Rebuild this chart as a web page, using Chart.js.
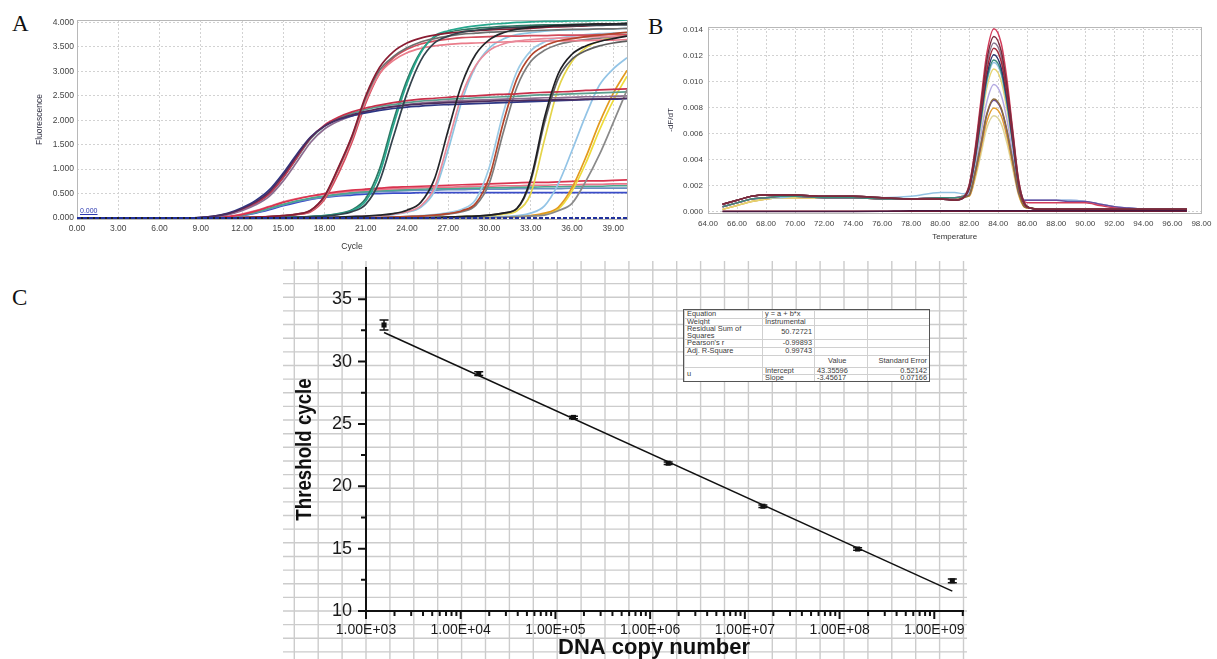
<!DOCTYPE html>
<html><head><meta charset="utf-8">
<script src="https://cdn.jsdelivr.net/npm/chart.js@4.4.1/dist/chart.umd.min.js"></script>
<style>
html,body{margin:0;padding:0;background:#fff;width:1217px;height:659px;overflow:hidden;position:relative;font-family:'Liberation Sans',Arial,sans-serif;}
canvas{position:absolute;}
.lbl{position:absolute;font-family:'Liberation Serif','Times New Roman',serif;font-size:23px;color:#111;line-height:1;}
#thr{position:absolute;left:80px;top:207px;font-size:7px;color:#2a38b0;text-decoration:underline;font-family:'Liberation Sans',Arial,sans-serif;}
#tbl{position:absolute;left:683px;top:309px;width:247px;height:73px;background:#fff;border:1px solid #555;box-sizing:border-box;overflow:hidden;}
#tbl table{border-collapse:collapse;width:245px;table-layout:fixed;font-size:7.4px;color:#3a3a3a;}
#tbl td{border:1px solid #d0d0d0;padding:0 2px;line-height:6.6px;white-space:pre-line;overflow:hidden;vertical-align:middle;}
</style></head>
<body>
<div class="lbl" style="left:12px;top:12px;">A</div>
<div class="lbl" style="left:648px;top:15px;">B</div>
<div class="lbl" style="left:12px;top:286px;">C</div>
<canvas id="cA" width="640" height="255" style="left:0;top:0;"></canvas>
<canvas id="cB" width="577" height="255" style="left:640px;top:0;"></canvas>
<canvas id="cC" width="720" height="420" style="left:270px;top:255px;"></canvas>
<div id="thr">0.000</div>
<div id="tbl"></div>
<script>
// ---------------- Panel A: amplification curves ----------------
const cycles = [0,1,2,3,4,5,6,7,8,9,10,11,12,13,14,15,16,17,18,19,20,21,22,23,24,25,26,27,28,29,30,31,32,33,34,35,36,37,38,39,40];
const thresholdA = 0.0;
const xTicksA = [0,3,6,9,12,15,18,21,24,27,30,33,36,39];
const xTickLabelsA = ['0.00','3.00','6.00','9.00','12.00','15.00','18.00','21.00','24.00','27.00','30.00','33.00','36.00','39.00'];
const yTicksA = [0,0.5,1,1.5,2,2.5,3,3.5,4];
const yTickLabelsA = ['0.000','0.500','1.000','1.500','2.000','2.500','3.000','3.500','4.000'];

const lowRed   = [0,0,0,0,0,0,0,0,0,0,0.01,0.03,0.07,0.14,0.23,0.32,0.39,0.45,0.50,0.54,0.57,0.59,0.61,0.63,0.64,0.65,0.66,0.67,0.68,0.69,0.70,0.71,0.72,0.73,0.73,0.74,0.75,0.76,0.76,0.77,0.78];
const lowPink  = [0,0,0,0,0,0,0,0,0,0,0.01,0.03,0.08,0.15,0.24,0.33,0.40,0.45,0.49,0.52,0.55,0.57,0.58,0.60,0.61,0.62,0.63,0.63,0.64,0.65,0.65,0.66,0.66,0.67,0.67,0.68,0.68,0.69,0.69,0.70,0.70];
const lowTeal  = [0,0,0,0,0,0,0,0,0,0,0.01,0.02,0.06,0.12,0.20,0.28,0.35,0.41,0.45,0.49,0.52,0.54,0.56,0.57,0.58,0.59,0.60,0.60,0.61,0.61,0.62,0.62,0.63,0.63,0.64,0.64,0.65,0.65,0.65,0.66,0.66];
const lowSteel = [0,0,0,0,0,0,0,0,0,0,0.01,0.02,0.05,0.11,0.19,0.27,0.34,0.39,0.43,0.47,0.50,0.52,0.54,0.55,0.56,0.57,0.57,0.58,0.58,0.59,0.59,0.59,0.60,0.60,0.60,0.60,0.61,0.61,0.61,0.61,0.61];
const lowBlue  = [0,0,0,0,0,0,0,0,0,0,0.01,0.02,0.05,0.10,0.17,0.25,0.32,0.38,0.42,0.45,0.47,0.49,0.50,0.51,0.51,0.52,0.52,0.52,0.52,0.52,0.52,0.52,0.52,0.52,0.52,0.52,0.52,0.52,0.52,0.52,0.52];

const purpleDark  = [0,0,0,0,0,0,0,0,0,0.01,0.04,0.09,0.19,0.33,0.54,0.88,1.28,1.65,1.88,2.02,2.11,2.18,2.24,2.28,2.31,2.33,2.35,2.36,2.37,2.38,2.39,2.40,2.40,2.41,2.41,2.42,2.42,2.43,2.43,2.44,2.45];
const purpleMauve = [0,0,0,0,0,0,0,0,0,0.01,0.03,0.07,0.15,0.27,0.45,0.76,1.15,1.55,1.82,1.98,2.09,2.17,2.23,2.28,2.32,2.35,2.37,2.39,2.40,2.41,2.42,2.43,2.44,2.45,2.46,2.46,2.47,2.48,2.48,2.49,2.50];
const purpleNavy  = [0,0,0,0,0,0,0,0,0,0.01,0.04,0.10,0.21,0.36,0.58,0.92,1.31,1.66,1.88,2.01,2.09,2.15,2.20,2.24,2.27,2.29,2.31,2.32,2.33,2.34,2.35,2.36,2.37,2.38,2.39,2.40,2.41,2.42,2.43,2.43,2.44];
const purpleRed   = [0,0,0,0,0,0,0,0,0,0.01,0.03,0.08,0.17,0.30,0.50,0.83,1.24,1.64,1.90,2.06,2.17,2.25,2.31,2.36,2.40,2.43,2.45,2.47,2.49,2.50,2.52,2.53,2.54,2.56,2.57,2.58,2.59,2.61,2.62,2.63,2.64];
const purpleTeal  = [0,0,0,0,0,0,0,0,0,0.01,0.03,0.08,0.17,0.30,0.50,0.83,1.23,1.62,1.88,2.04,2.14,2.22,2.28,2.32,2.36,2.39,2.41,2.43,2.44,2.46,2.47,2.48,2.49,2.51,2.52,2.53,2.54,2.55,2.56,2.57,2.58];

const g1DarkRed = [0,0,0,0,0,0,0,0,0,0,0,0,0.01,0.02,0.03,0.05,0.08,0.16,0.45,1.03,1.68,2.50,3.08,3.40,3.58,3.68,3.74,3.78,3.81,3.83,3.85,3.86,3.87,3.88,3.90,3.91,3.92,3.93,3.95,3.96,3.97];
const g1Gray    = [0,0,0,0,0,0,0,0,0,0,0,0,0.01,0.02,0.03,0.05,0.08,0.16,0.44,1.01,1.66,2.46,3.02,3.30,3.48,3.60,3.67,3.72,3.76,3.78,3.80,3.81,3.82,3.83,3.84,3.85,3.86,3.86,3.87,3.87,3.88];
const g1Pink    = [0,0,0,0,0,0,0,0,0,0,0,0,0.01,0.02,0.03,0.05,0.08,0.15,0.42,0.98,1.62,2.40,2.95,3.22,3.38,3.47,3.52,3.55,3.57,3.58,3.59,3.60,3.61,3.61,3.62,3.62,3.63,3.63,3.64,3.64,3.65];
const g1Salmon  = [0,0,0,0,0,0,0,0,0,0,0,0,0.01,0.02,0.03,0.04,0.07,0.13,0.38,0.90,1.55,2.35,2.95,3.27,3.45,3.56,3.62,3.66,3.69,3.70,3.71,3.72,3.72,3.73,3.73,3.74,3.74,3.74,3.75,3.75,3.75];

const g2Teal  = [0,0,0,0,0,0,0,0,0,0,0,0,0,0,0,0.01,0.02,0.03,0.05,0.08,0.15,0.35,0.90,1.88,2.75,3.38,3.72,3.83,3.89,3.93,3.96,3.98,4.00,4.01,4.02,4.02,4.03,4.03,4.04,4.04,4.05];
const g2Slate = [0,0,0,0,0,0,0,0,0,0,0,0,0,0,0,0.01,0.02,0.03,0.04,0.07,0.13,0.28,0.75,1.65,2.55,3.22,3.58,3.72,3.80,3.84,3.87,3.89,3.90,3.91,3.92,3.93,3.93,3.94,3.94,3.95,3.95];
const g2Green = [0,0,0,0,0,0,0,0,0,0,0,0,0,0,0,0.01,0.02,0.03,0.05,0.09,0.17,0.40,1.00,1.98,2.82,3.40,3.70,3.80,3.85,3.88,3.90,3.92,3.93,3.94,3.95,3.95,3.96,3.96,3.97,3.97,3.98];

const g3Black     = [0,0,0,0,0,0,0,0,0,0,0,0,0,0,0,0,0,0,0.01,0.02,0.03,0.04,0.06,0.09,0.16,0.32,0.80,1.80,2.75,3.35,3.65,3.79,3.86,3.90,3.92,3.94,3.95,3.96,3.97,3.97,3.98];
const g3Pink      = [0,0,0,0,0,0,0,0,0,0,0,0,0,0,0,0,0,0,0.01,0.02,0.03,0.04,0.05,0.08,0.13,0.25,0.62,1.55,2.52,3.12,3.43,3.56,3.62,3.65,3.67,3.68,3.69,3.70,3.71,3.71,3.72];
const g3LightBlue = [0,0,0,0,0,0,0,0,0,0,0,0,0,0,0,0,0,0,0.01,0.02,0.03,0.04,0.05,0.07,0.12,0.22,0.55,1.40,2.40,3.10,3.48,3.66,3.75,3.79,3.82,3.84,3.85,3.86,3.87,3.87,3.88];

const g4Red       = [0,0,0,0,0,0,0,0,0,0,0,0,0,0,0,0,0,0,0,0,0,0,0.01,0.02,0.03,0.04,0.06,0.09,0.15,0.30,0.85,1.95,2.85,3.32,3.52,3.62,3.67,3.71,3.74,3.77,3.80];
const g4LightBlue = [0,0,0,0,0,0,0,0,0,0,0,0,0,0,0,0,0,0,0,0,0,0,0.01,0.02,0.03,0.05,0.07,0.11,0.18,0.38,1.05,2.15,3.00,3.42,3.60,3.68,3.72,3.75,3.77,3.78,3.79];
const g4Gray      = [0,0,0,0,0,0,0,0,0,0,0,0,0,0,0,0,0,0,0,0,0,0,0.01,0.02,0.03,0.04,0.05,0.08,0.13,0.26,0.72,1.75,2.68,3.20,3.43,3.55,3.61,3.65,3.68,3.70,3.72];

const g5Black  = [0,0,0,0,0,0,0,0,0,0,0,0,0,0,0,0,0,0,0,0,0,0,0,0,0,0,0.01,0.02,0.03,0.04,0.06,0.10,0.20,0.80,2.05,2.95,3.35,3.52,3.61,3.67,3.72];
const g5Yellow = [0,0,0,0,0,0,0,0,0,0,0,0,0,0,0,0,0,0,0,0,0,0,0,0,0,0,0.01,0.02,0.03,0.04,0.05,0.08,0.15,0.50,1.60,2.65,3.20,3.48,3.62,3.70,3.76];
const g5Gray   = [0,0,0,0,0,0,0,0,0,0,0,0,0,0,0,0,0,0,0,0,0,0,0,0,0,0,0.01,0.02,0.03,0.04,0.06,0.10,0.19,0.75,1.95,2.85,3.25,3.42,3.52,3.58,3.62];

const g6LightBlue = [0,0,0,0,0,0,0,0,0,0,0,0,0,0,0,0,0,0,0,0,0,0,0,0,0,0,0,0,0,0.01,0.02,0.03,0.05,0.10,0.25,0.70,1.38,2.10,2.72,3.05,3.28];
const g6Orange    = [0,0,0,0,0,0,0,0,0,0,0,0,0,0,0,0,0,0,0,0,0,0,0,0,0,0,0,0,0,0,0.01,0.02,0.03,0.05,0.10,0.22,0.62,1.24,1.95,2.55,3.02];
const g6Yellow    = [0,0,0,0,0,0,0,0,0,0,0,0,0,0,0,0,0,0,0,0,0,0,0,0,0,0,0,0,0,0,0.01,0.02,0.03,0.04,0.08,0.18,0.55,1.12,1.80,2.40,2.90];
const g6Gray      = [0,0,0,0,0,0,0,0,0,0,0,0,0,0,0,0,0,0,0,0,0,0,0,0,0,0,0,0,0,0,0.01,0.02,0.03,0.04,0.06,0.15,0.30,0.75,1.30,1.95,2.62];

// ---------------- Panel B: melt curves ----------------
const temps = [65,66,67,68,69,70,72,74,76,78,80,81,81.6,82,82.4,82.8,83.2,83.7,84.2,84.6,85,85.4,85.8,86.2,87,88,89,90,91,92,93,94,95,96,97];
const xTicksB = [64,66,68,70,72,74,76,78,80,82,84,86,88,90,92,94,96,98];
const xTickLabelsB = ['64.00','66.00','68.00','70.00','72.00','74.00','76.00','78.00','80.00','82.00','84.00','86.00','88.00','90.00','92.00','94.00','96.00','98.00'];
const yTicksB = [0,0.002,0.004,0.006,0.008,0.010,0.012,0.014];
const yTickLabelsB = ['0.000','0.002','0.004','0.006','0.008','0.010','0.012','0.014'];

const melt1  = [0.0004,0.0007,0.0010,0.0011,0.0012,0.0012,0.0011,0.0011,0.0010,0.0010,0.0011,0.0011,0.0012,0.0021,0.0048,0.0085,0.0121,0.0141,0.0130,0.0102,0.0063,0.0025,0.0008,0.0007,0.0007,0.0007,0.0007,0.0007,0.0005,0.0003,0.0002,0.0002,0.0002,0.0002,0.0002];
const melt2  = [0.0006,0.0009,0.0012,0.0013,0.0013,0.0013,0.0012,0.0012,0.0011,0.0010,0.0010,0.0009,0.0011,0.0020,0.0046,0.0081,0.0116,0.0135,0.0124,0.0097,0.0061,0.0024,0.0007,0.0003,0.0002,0.0002,0.0002,0.0002,0.0002,0.0002,0.0002,0.0002,0.0002,0.0002,0.0002];
const melt3  = [0.0006,0.0009,0.0012,0.0013,0.0013,0.0013,0.0012,0.0012,0.0011,0.0010,0.0010,0.0009,0.0011,0.0020,0.0044,0.0078,0.0112,0.0130,0.0120,0.0094,0.0059,0.0023,0.0007,0.0003,0.0002,0.0002,0.0002,0.0002,0.0002,0.0002,0.0002,0.0002,0.0002,0.0002,0.0002];
const melt4  = [0.0006,0.0009,0.0012,0.0013,0.0013,0.0013,0.0012,0.0012,0.0011,0.0010,0.0010,0.0009,0.0011,0.0019,0.0043,0.0076,0.0108,0.0126,0.0116,0.0091,0.0057,0.0022,0.0006,0.0003,0.0002,0.0002,0.0002,0.0002,0.0002,0.0002,0.0002,0.0002,0.0002,0.0002,0.0002];
const melt5  = [0.0006,0.0009,0.0012,0.0013,0.0013,0.0013,0.0012,0.0012,0.0011,0.0010,0.0010,0.0009,0.0011,0.0018,0.0041,0.0073,0.0104,0.0121,0.0111,0.0087,0.0054,0.0021,0.0006,0.0003,0.0002,0.0002,0.0002,0.0002,0.0002,0.0002,0.0002,0.0002,0.0002,0.0002,0.0002];
const melt6  = [0.0004,0.0007,0.0010,0.0011,0.0012,0.0012,0.0011,0.0011,0.0010,0.0010,0.0011,0.0011,0.0012,0.0018,0.0040,0.0070,0.0101,0.0117,0.0108,0.0084,0.0053,0.0021,0.0006,0.0003,0.0002,0.0002,0.0002,0.0002,0.0002,0.0002,0.0002,0.0002,0.0002,0.0002,0.0002];
const melt7  = [0.0004,0.0007,0.0010,0.0011,0.0011,0.0012,0.0011,0.0011,0.0011,0.0012,0.0015,0.0015,0.0014,0.0017,0.0039,0.0069,0.0099,0.0115,0.0106,0.0083,0.0052,0.0020,0.0009,0.0009,0.0009,0.0009,0.0009,0.0008,0.0006,0.0004,0.0003,0.0002,0.0001,0.0001,0.0001];
const melt8  = [0.0002,0.0005,0.0008,0.0010,0.0011,0.0011,0.0011,0.0011,0.0010,0.0010,0.0010,0.0010,0.0012,0.0017,0.0037,0.0066,0.0095,0.0110,0.0101,0.0079,0.0050,0.0020,0.0006,0.0003,0.0002,0.0002,0.0002,0.0002,0.0002,0.0002,0.0002,0.0002,0.0002,0.0002,0.0002];
const melt9  = [0.0004,0.0007,0.0010,0.0011,0.0012,0.0012,0.0011,0.0011,0.0010,0.0010,0.0011,0.0011,0.0012,0.0015,0.0033,0.0059,0.0084,0.0098,0.0090,0.0071,0.0044,0.0018,0.0009,0.0009,0.0009,0.0009,0.0009,0.0008,0.0006,0.0004,0.0003,0.0002,0.0001,0.0001,0.0001];
const melt10 = [0.0006,0.0009,0.0012,0.0013,0.0013,0.0013,0.0012,0.0012,0.0011,0.0010,0.0010,0.0009,0.0011,0.0013,0.0030,0.0052,0.0075,0.0087,0.0080,0.0063,0.0039,0.0016,0.0004,0.0003,0.0002,0.0002,0.0002,0.0002,0.0002,0.0002,0.0002,0.0002,0.0002,0.0002,0.0002];
const melt11 = [0.0002,0.0005,0.0008,0.0010,0.0011,0.0011,0.0011,0.0011,0.0010,0.0010,0.0010,0.0010,0.0012,0.0012,0.0027,0.0048,0.0069,0.0080,0.0074,0.0058,0.0036,0.0014,0.0004,0.0003,0.0002,0.0002,0.0002,0.0002,0.0002,0.0002,0.0002,0.0002,0.0002,0.0002,0.0002];
const melt12 = [0.0002,0.0005,0.0008,0.0010,0.0011,0.0011,0.0011,0.0011,0.0010,0.0010,0.0010,0.0010,0.0012,0.0012,0.0025,0.0044,0.0064,0.0074,0.0068,0.0053,0.0033,0.0013,0.0004,0.0003,0.0002,0.0002,0.0002,0.0002,0.0002,0.0002,0.0002,0.0002,0.0002,0.0002,0.0002];
const melt13 = [0.0004,0.0007,0.0010,0.0011,0.0012,0.0012,0.0011,0.0011,0.0010,0.0010,0.0011,0.0011,0.0012,0.0013,0.0030,0.0051,0.0074,0.0086,0.0079,0.0062,0.0039,0.0015,0.0009,0.0009,0.0009,0.0009,0.0008,0.0008,0.0006,0.0004,0.0003,0.0002,0.0001,0.0001,0.0001];
const ntc1   = [0.00003,0.00003,0.00003,0.00003,0.00003,0.00003,0.00003,0.00003,0.00005,0.0001,0.0001,0.0001,0.0001,0.0001,0.0001,0.0001,0.0001,0.0001,0.0001,0.0001,0.0001,0.0001,0.0001,0.0001,0.0001,0.0001,0.0001,0.0001,0.0001,0.0001,0.0001,0.0001,0.0001,0.0001,0.0001];
const ntc2   = [0.00005,0.00005,0.00005,0.00005,0.00005,0.00005,0.00005,0.00005,0.00005,0.00005,0.00005,0.00005,0.00005,0.00005,0.00005,0.00005,0.00005,0.00005,0.00005,0.00005,0.00005,0.00005,0.00005,0.00005,0.00005,0.00005,0.00005,0.00005,0.00005,0.00005,0.00005,0.00005,0.00005,0.00005,0.00005];

// ---------------- Panel C: standard curve ----------------
const copiesC = [1.55e3,1.55e4,1.55e5,1.55e6,1.55e7,1.55e8,1.55e9];
const ctC     = [32.93,29.03,25.52,21.85,18.40,14.97,12.42];
const ctErrC  = [0.40,0.15,0.10,0.10,0.10,0.10,0.15];
const fitX    = [1.55e3,1.55e9];
const fitY    = [32.33,11.59];
const xTicksC = [1e3,1e4,1e5,1e6,1e7,1e8,1e9];
const xTickLabelsC = ['1.00E+03','1.00E+04','1.00E+05','1.00E+06','1.00E+07','1.00E+08','1.00E+09'];
const yTicksC = [10,15,20,25,30,35];
const yTickLabelsC = ['10','15','20','25','30','35'];
const yMinorC = [12.5,17.5,22.5,27.5,32.5];
const minorMultC = [2,3,4,5,6,7,8,9];
const xTitleC = 'DNA copy number';
const yTitleC = 'Threshold cycle';

const tableRows = [
  ['Equation','y = a + b*x','',''],
  ['Weight','Instrumental','',''],
  ['Residual Sum of\nSquares','50.72721','',''],
  ["Pearson's r",'-0.99893','',''],
  ['Adj. R-Square','0.99743','',''],
  ['','','Value','Standard Error'],
  ['u','Intercept','43.35596','0.52142'],
  ['','Slope','-3.45617','0.07166']
];

// ---------------- drawing ----------------
const SANS = "'Liberation Sans', Arial, sans-serif";
const xy = (xs, ys) => xs.map((x, i) => ({x: x, y: ys[i]}));
const lineDS = (vals, xs, color, w) => ({data: xy(xs, vals), borderColor: color, backgroundColor: color, borderWidth: w || 1.7, pointRadius: 0, cubicInterpolationMode: 'monotone', fill: false});
const setTicks = vals => (s => { s.ticks = vals.map(v => ({value: v})); });
const frame = {
  id: 'frame',
  beforeDatasetsDraw(chart) {
    const a = chart.chartArea, ctx = chart.ctx;
    ctx.save(); ctx.strokeStyle = '#b8b8b8'; ctx.lineWidth = 1;
    ctx.strokeRect(Math.round(a.left) + 0.5, Math.round(a.top) + 0.5, Math.round(a.right - a.left), Math.round(a.bottom - a.top));
    ctx.restore();
  }
};
function smallScales(xMin, xMax, yMin, yMax, xt, xl, yt, yl, xTitle, yTitle, yAxisW, xAxisH, yTitlePad, xLabPad, xTitlePad, yLabPad, fs) {
  return {
    x: {type: 'linear', min: xMin, max: xMax, bounds: 'data', afterBuildTicks: setTicks(xt), afterFit: s => { s.height = xAxisH; },
        grid: {color: '#d2d2d2', lineWidth: 1, drawTicks: false}, border: {display: false, dash: [2, 2]},
        ticks: {callback: (v, i) => xl[i], font: {family: SANS, size: fs}, color: '#444', padding: xLabPad, maxRotation: 0, autoSkip: false},
        title: {display: true, text: xTitle, font: {family: SANS, size: fs}, color: '#333', padding: {top: 0, bottom: xTitlePad}}},
    y: {min: yMin, max: yMax, bounds: 'data', afterBuildTicks: setTicks(yt), afterFit: s => { s.width = yAxisW; },
        grid: {color: '#d2d2d2', lineWidth: 1, drawTicks: false}, border: {display: false, dash: [2, 2]},
        ticks: {callback: (v, i) => yl[i], font: {family: SANS, size: fs}, color: '#444', padding: yLabPad, autoSkip: false},
        title: {display: true, text: yTitle, font: {family: SANS, size: fs}, color: '#334', padding: {top: yTitlePad, bottom: 0}}}
  };
}
const baseOpts = {animation: false, responsive: false, devicePixelRatio: 1, events: [],
  plugins: {legend: {display: false}, tooltip: {enabled: false}}};

// Panel A
const seriesA = [
  [g5Black,'#1e1e22'],[g3Black,'#232529'],[g2Slate,'#34424c'],[g1DarkRed,'#8a1c32'],[purpleDark,'#4e2c5c'],
  [g4Red,'#b3452c'],[g6Gray,'#8a8a8a'],[g5Gray,'#5c5c5c'],[g1Gray,'#6e6e6e'],[purpleNavy,'#2d3684'],
  [purpleMauve,'#8c6c90'],[purpleRed,'#c7304b'],[purpleTeal,'#5a9e8e'],[g2Teal,'#27a88e'],[g2Green,'#2e7864'],
  [g3Pink,'#e98a9a'],[g1Pink,'#ea7c8a'],[g1Salmon,'#d34c5c'],[g4Gray,'#7c7c7c'],[g4LightBlue,'#9ccbe6'],
  [g3LightBlue,'#8ec6e2'],[g5Yellow,'#e4d44a'],[g6LightBlue,'#93c4e6'],[g6Orange,'#e39a1e'],[g6Yellow,'#eedc3a'],
  [lowRed,'#d9344f'],[lowPink,'#e8758a'],[lowTeal,'#4aa88f'],[lowSteel,'#6a8fc0'],[lowBlue,'#3a4cc8']
];
const dsA = [{data: [{x: cycles[0], y: thresholdA}, {x: cycles[cycles.length - 1], y: thresholdA}], borderColor: '#1f2f9c', borderWidth: 2.2, borderDash: [4, 2], pointRadius: 0}]
  .concat(seriesA.map(s => lineDS(s[0], cycles, s[1], 1.7)));
new Chart(document.getElementById('cA'), {
  type: 'line', data: {datasets: dsA},
  options: Object.assign({}, baseOpts, {
    layout: {padding: {left: 0, top: 20, right: 13, bottom: 0}},
    scales: smallScales(0, 40, -0.02, 4.05, xTicksA, xTickLabelsA, yTicksA, yTickLabelsA, 'Cycle', 'Fluorescence', 77, 36, 35, 5, 3.6, 3, 8.5)
  }),
  plugins: [frame]
});

// Panel B
const seriesB = [
  [ntc1,'#4a1840'],[ntc2,'#8a1a2a'],
  [melt2,'#7b2a3c'],[melt4,'#a02838'],[melt5,'#2b356e'],[melt10,'#8c6c3c'],[melt3,'#8a7890'],
  [melt6,'#3b8c7c'],[melt1,'#d23c5a'],[melt13,'#6a4c9c'],[melt7,'#92c2e2'],[melt9,'#b4aae2'],
  [melt8,'#e6d472'],[melt11,'#e3a032'],[melt12,'#ddd59a']
];
new Chart(document.getElementById('cB'), {
  type: 'line', data: {datasets: seriesB.map(s => lineDS(s[0], temps, s[1], 1.5))},
  options: Object.assign({}, baseOpts, {
    layout: {padding: {left: 0, top: 27, right: 9, bottom: 0}},
    scales: smallScales(64, 98, -0.00008, 0.01423, xTicksB, xTickLabelsB, yTicksB, yTickLabelsB, 'Temperature', '-dF/dT', 68, 42, 25.6, 5.6, 13.6, 5, 8)
  }),
  plugins: [frame]
});

// Panel C
const paperGrid = {
  id: 'paperGrid',
  beforeDraw(chart) {
    const {ctx, scales: {x, y}} = chart;
    const x0 = x.getPixelForValue(xTicksC[0]), y0 = y.getPixelForValue(yTicksC[0]);
    ctx.save(); ctx.strokeStyle = '#cccccc'; ctx.lineWidth = 1.4;
    ctx.beginPath();
    for (let k = -3; k <= 25; k++) { const px = x0 + k * 23.9; ctx.moveTo(px, 6); ctx.lineTo(px, chart.height); }
    for (let k = -3; k <= 25; k++) { const py = y0 - k * 13.64; ctx.moveTo(13, py); ctx.lineTo(697, py); }
    ctx.stroke(); ctx.restore();
  }
};
const tickMarks = {
  id: 'tickMarks',
  afterDraw(chart) {
    const {ctx, chartArea, scales: {x, y}} = chart;
    const ax = x.getPixelForValue(xTicksC[0]), ay = y.getPixelForValue(yTicksC[0]);
    ctx.save(); ctx.strokeStyle = '#111'; ctx.lineWidth = 2; ctx.beginPath();
    yTicksC.forEach(v => { const p = y.getPixelForValue(v); ctx.moveTo(ax, p); ctx.lineTo(ax - 8, p); });
    yMinorC.forEach(v => { const p = y.getPixelForValue(v); ctx.moveTo(ax, p); ctx.lineTo(ax - 5, p); });
    xTicksC.forEach(v => { const p = x.getPixelForValue(v); ctx.moveTo(p, ay); ctx.lineTo(p, ay + 8); });
    xTicksC.forEach(d => minorMultC.forEach(m => {
      const v = d * m; if (v < x.max) { const p = x.getPixelForValue(v); ctx.moveTo(p, ay); ctx.lineTo(p, ay + 5); }
    }));
    ctx.stroke();
    // axis titles
    ctx.fillStyle = '#111';
    ctx.textAlign = 'center'; ctx.textBaseline = 'middle';
    ctx.font = "bold 22px " + SANS;
    ctx.fillText(xTitleC, ax + 288, chart.height - 27);
    ctx.translate(35, (chartArea.top + chartArea.bottom) / 2 + 10);
    ctx.rotate(-Math.PI / 2);
    ctx.scale(0.85, 1);
    ctx.fillText(yTitleC, 0, 0);
    ctx.restore();
  }
};
const errorBars = {
  id: 'errorBars',
  afterDatasetsDraw(chart) {
    const {ctx, scales: {x, y}} = chart;
    ctx.save(); ctx.strokeStyle = '#111'; ctx.lineWidth = 1.5; ctx.beginPath();
    copiesC.forEach((c, i) => {
      const px = x.getPixelForValue(c), yt = y.getPixelForValue(ctC[i] + ctErrC[i]), yb = y.getPixelForValue(ctC[i] - ctErrC[i]);
      ctx.moveTo(px, yt); ctx.lineTo(px, yb);
      ctx.moveTo(px - 4.5, yt); ctx.lineTo(px + 4.5, yt);
      ctx.moveTo(px - 4.5, yb); ctx.lineTo(px + 4.5, yb);
    });
    ctx.stroke(); ctx.restore();
  }
};
new Chart(document.getElementById('cC'), {
  type: 'scatter',
  data: {datasets: [
    {type: 'scatter', data: xy(copiesC, ctC), pointStyle: 'rect', pointRadius: 3.6, backgroundColor: '#111', borderColor: '#111', borderWidth: 0},
    {type: 'line', data: xy(fitX, fitY), borderColor: '#111', borderWidth: 1.5, pointRadius: 0, showLine: true, fill: false}
  ]},
  options: Object.assign({}, baseOpts, {
    layout: {padding: {left: 0, top: 13, right: 27, bottom: 0}},
    scales: {
      x: {type: 'logarithmic', min: 1e3, max: 2.01e9, afterBuildTicks: setTicks(xTicksC),
          afterFit: s => { s.height = 64; s.paddingLeft = 0; s.paddingRight = 0; },
          grid: {display: false, drawTicks: false}, border: {display: true, color: '#111', width: 2},
          ticks: {callback: (v, i) => xTickLabelsC[i], font: {family: SANS, size: 14}, color: '#1a1a1a', padding: 11, maxRotation: 0, autoSkip: false}},
      y: {min: 10, max: 37.5, bounds: 'data', afterBuildTicks: setTicks(yTicksC),
          afterFit: s => { s.width = 96; s.paddingTop = 0; s.paddingBottom = 0; },
          grid: {display: false, drawTicks: false}, border: {display: true, color: '#111', width: 2},
          ticks: {callback: (v, i) => yTickLabelsC[i], font: {family: SANS, size: 18}, color: '#1a1a1a', padding: 14, autoSkip: false}}
    }
  }),
  plugins: [paperGrid, tickMarks, errorBars]
});

// Fit table (Panel C)
const rowH = [7, 7, 14, 7, 6, 12, 7, 6];
const colW = [78, 52, 53, 62];
const align = [
  ['left','left','left','right'],['left','left','left','right'],['left','right','left','right'],['left','right','left','right'],
  ['left','right','left','right'],['left','left','left','right'],['left','left','left','right'],['left','left','left','right']
];
let html = '<table><colgroup>' + colW.map(w => '<col style="width:' + w + 'px">').join('') + '</colgroup>';
tableRows.forEach((r, i) => {
  html += '<tr style="height:' + rowH[i] + 'px">';
  r.forEach((c, j) => {
    if (i === 7 && j === 0) return;
    const rs = (i === 6 && j === 0) ? ' rowspan="2"' : '';
    const pad = (i === 5 && j === 2) ? 'padding-left:13px;' : '';
    html += '<td' + rs + ' style="text-align:' + align[i][j] + ';' + pad + '">' + c.replace(/</g, '&lt;') + '</td>';
  });
  html += '</tr>';
});
html += '</table>';
document.getElementById('tbl').innerHTML = html;
</script>
</body></html>
